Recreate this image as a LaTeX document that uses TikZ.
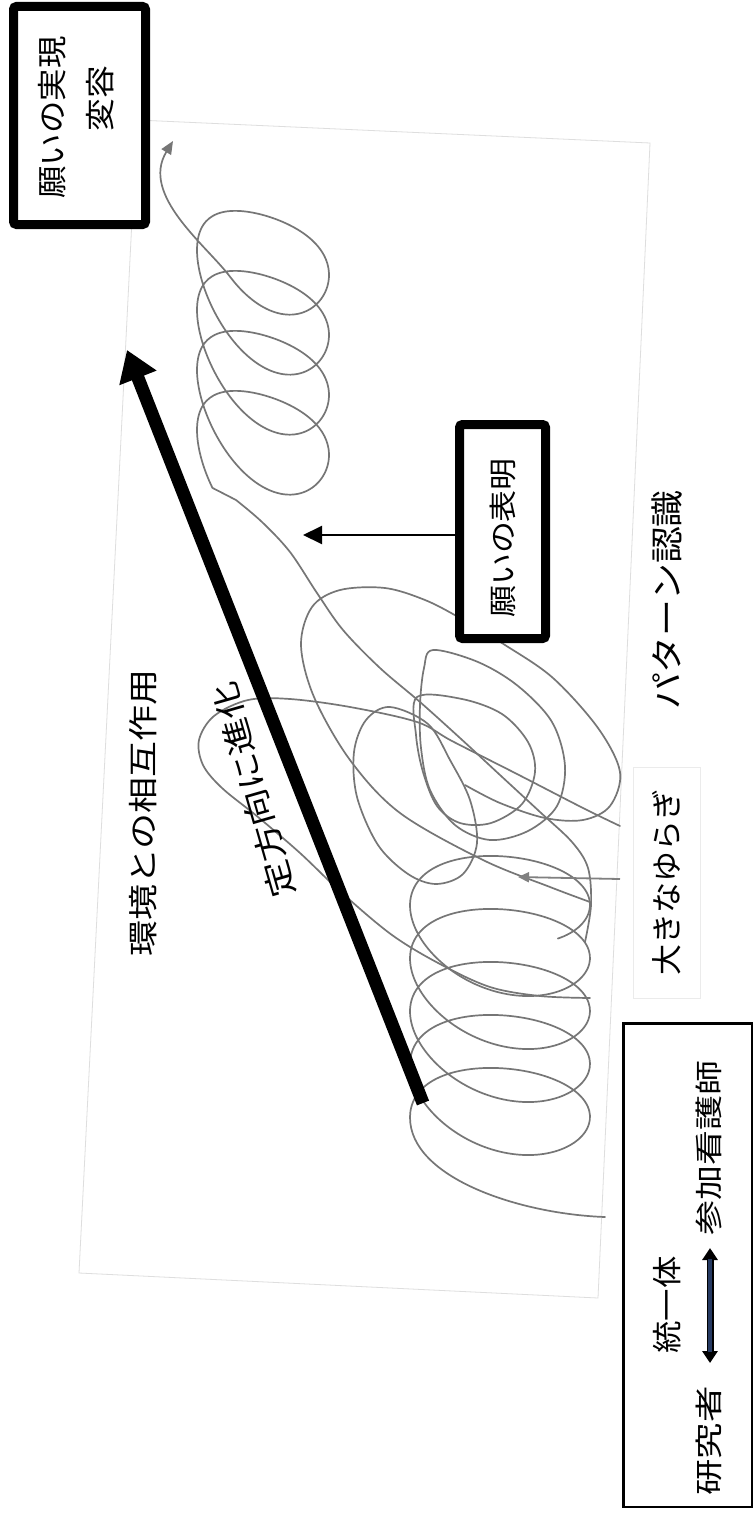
\documentclass[tikz,border=0pt]{standalone}
\usepackage{fontspec}
\usepackage{graphicx}
\newfontfamily\jp{Noto Sans CJK JP}
\usetikzlibrary{arrows.meta}
\definecolor{scrib}{RGB}{118,118,118}
\definecolor{ptrgray}{RGB}{128,128,128}
\definecolor{navyfill}{RGB}{38,58,98}
\newcommand\jptext[3]{{\jp\fontsize{#1}{#1}\selectfont\scalebox{#2}[1]{#3}}}
\begin{document}
\begin{tikzpicture}[x=1pt,y=-1pt,
  thickbox/.style={draw=black, line width=9pt, rounded corners=3pt, fill=white, inner sep=0pt},
  thinbox/.style={draw=black, line width=2.5pt, fill=white, inner sep=0pt},
  lbl/.style={inner sep=0pt, rotate=90},
  coil/.style={draw=scrib, line width=1.7pt, line cap=round, line join=round},
  scan/.style={draw=black!13, line width=0.8pt},
  bigarrow/.style={line width=13pt, -{Triangle[width=38pt,length=30pt]}},
  ptr/.style={draw=black, line width=2pt, -{Triangle[width=18pt,length=19pt]}},
  grayptr/.style={draw=ptrgray, line width=1.8pt, -{Triangle[width=10pt,length=11pt]}}
]
\useasboundingbox (0,0) rectangle (755,1517);
\fill[white] (0,0) rectangle (755,1517);

% faint scan border and faint label frame
\draw[scan] (137,120) -- (650,143) -- (598,1298) -- (79,1273) -- cycle;
\draw[draw=black!8, line width=0.8pt] (633,767) rectangle (700,998);

% ---- scribble: lower coil with tail
\draw[coil] (605,1217) .. controls (520,1214) and (410,1178) .. (410,1117.4)
  -- plot[domain=180:1850, samples=320, smooth, variable=\t]
  ({500+90*cos(\t)}, {1133.4-0.14722*(\t-180)+55*sin(\t)+13*cos(\t)-3*cos(2*\t)});

% ---- middle loops
\draw[coil] plot[smooth, tension=0.55] coordinates {(590,902) (550,887) (483,860) (400,813) (350,760) (314,697) (301,645) (312,607) (340,590) (385,588) (425,600) (460,618) (505,645) (553,678) (598,728) (620,772) (610,806) (583,820) (545,818) (500,803) (465,785)};
\draw[coil] plot[smooth cycle, tension=0.55] coordinates {(433,650) (424,668) (420,705) (421,748) (430,790) (455,825) (490,840) (528,831) (557,806) (565,766) (552,722) (518,686) (478,662)};
\draw[coil] plot[smooth cycle, tension=0.55] coordinates {(417,697) (462,699) (502,714) (528,742) (535,772) (522,804) (491,823) (460,823) (437,806) (423,772) (416,735)};
\draw[coil] plot[smooth cycle, tension=0.55] coordinates {(390,707) (366,720) (354,752) (357,797) (378,845) (408,874) (436,884) (463,874) (477,843) (470,800) (450,760) (428,724)};
\draw[coil] plot[smooth, tension=0.55] coordinates {(620,826) (583,808) (517,774) (452,741) (417,722) (350,707) (290,699) (248,700) (214,716) (199,740) (203,765) (222,788) (258,817) (300,853) (342,893) (392,935) (440,964) (490,987) (540,996) (590,998)};

% ---- long diagonal stroke into upper coil, then tail with arrow
\draw[coil, -{Triangle[width=11pt,length=13pt]}] plot[smooth, tension=0.55] coordinates {(585,942) (591,905) (588,868) (572,842) (540,812) (500,775) (460,738) (420,702) (380,668) (343,630) (317,593) (290,552) (262,522) (236,500)}
  -- plot[domain=140:1560, samples=280, smooth, variable=\t]
  ({263+66*cos(\t)}, {464.25-(\t-180)/6+61*sin(\t)+27.5*cos(\t)-6.75*cos(2*\t)})
  .. controls (206,245) and (140,195) .. (173,141);

% ---- big black arrow
\coordinate (bigtail) at (423,1103);
\coordinate (bigtip) at (127,350);
\draw[bigarrow] (bigtail) -- (bigtip);

% ---- top-left box
\node[thickbox, minimum width=132pt, minimum height=218pt] (b1) at (79.5,115.5) {};
\node[lbl] (t1a) at (52,117.5) {\jptext{30}{1.08}{願いの実現}};
\node[lbl] (t1b) at (100,99) {\jptext{30}{1.09}{変容}};

% ---- middle box with pointer
\coordinate (b2tip) at (303,535);
\node[thickbox, minimum width=86pt, minimum height=214pt] (b2) at (502.5,531.5) {};
\draw[ptr] ([yshift=-3.5pt]b2.west) -- (b2tip);
\node[lbl] (t2) at (503,538) {\jptext{28}{1.14}{願いの表明}};

% ---- free labels
\node[lbl] (env) at (143.5,813) {\jptext{30}{1.2}{環境との相互作用}};
\node[inner sep=0pt, rotate=106] (evo) at (253.5,790) {\jptext{31}{1.19}{定方向に進化}};
\node[lbl] (pat) at (667,600) {\jptext{33}{1.12}{パターン認識}};
\node[lbl] (yur) at (667,882) {\jptext{31}{1.0}{大きなゆらぎ}};
\coordinate (gstart) at (620,879);
\coordinate (gtip) at (518,877);
\draw[grayptr] (gstart) -- (gtip);

% ---- bottom box
\node[thinbox, minimum width=128.5pt, minimum height=483.5pt] (b3) at (687.5,1265) {};
\node[lbl] (uni) at (667,1305) {\jptext{30}{1.08}{統一体}};
\node[lbl] (res) at (709,1441) {\jptext{28}{1.3}{研究者}};
\node[lbl] (nur) at (709,1147.5) {\jptext{28}{1.25}{参加看護師}};
\coordinate (dA) at (710,1363);
\coordinate (dB) at (710,1248);
\draw[line width=7pt, draw=black, {Triangle[width=15pt,length=12pt]}-{Triangle[width=15pt,length=12pt]}] (dA) -- (dB);
\draw[line width=4.4pt, draw=navyfill, shorten <=11pt, shorten >=11pt] (dA) -- (dB);
\end{tikzpicture}
\end{document}
